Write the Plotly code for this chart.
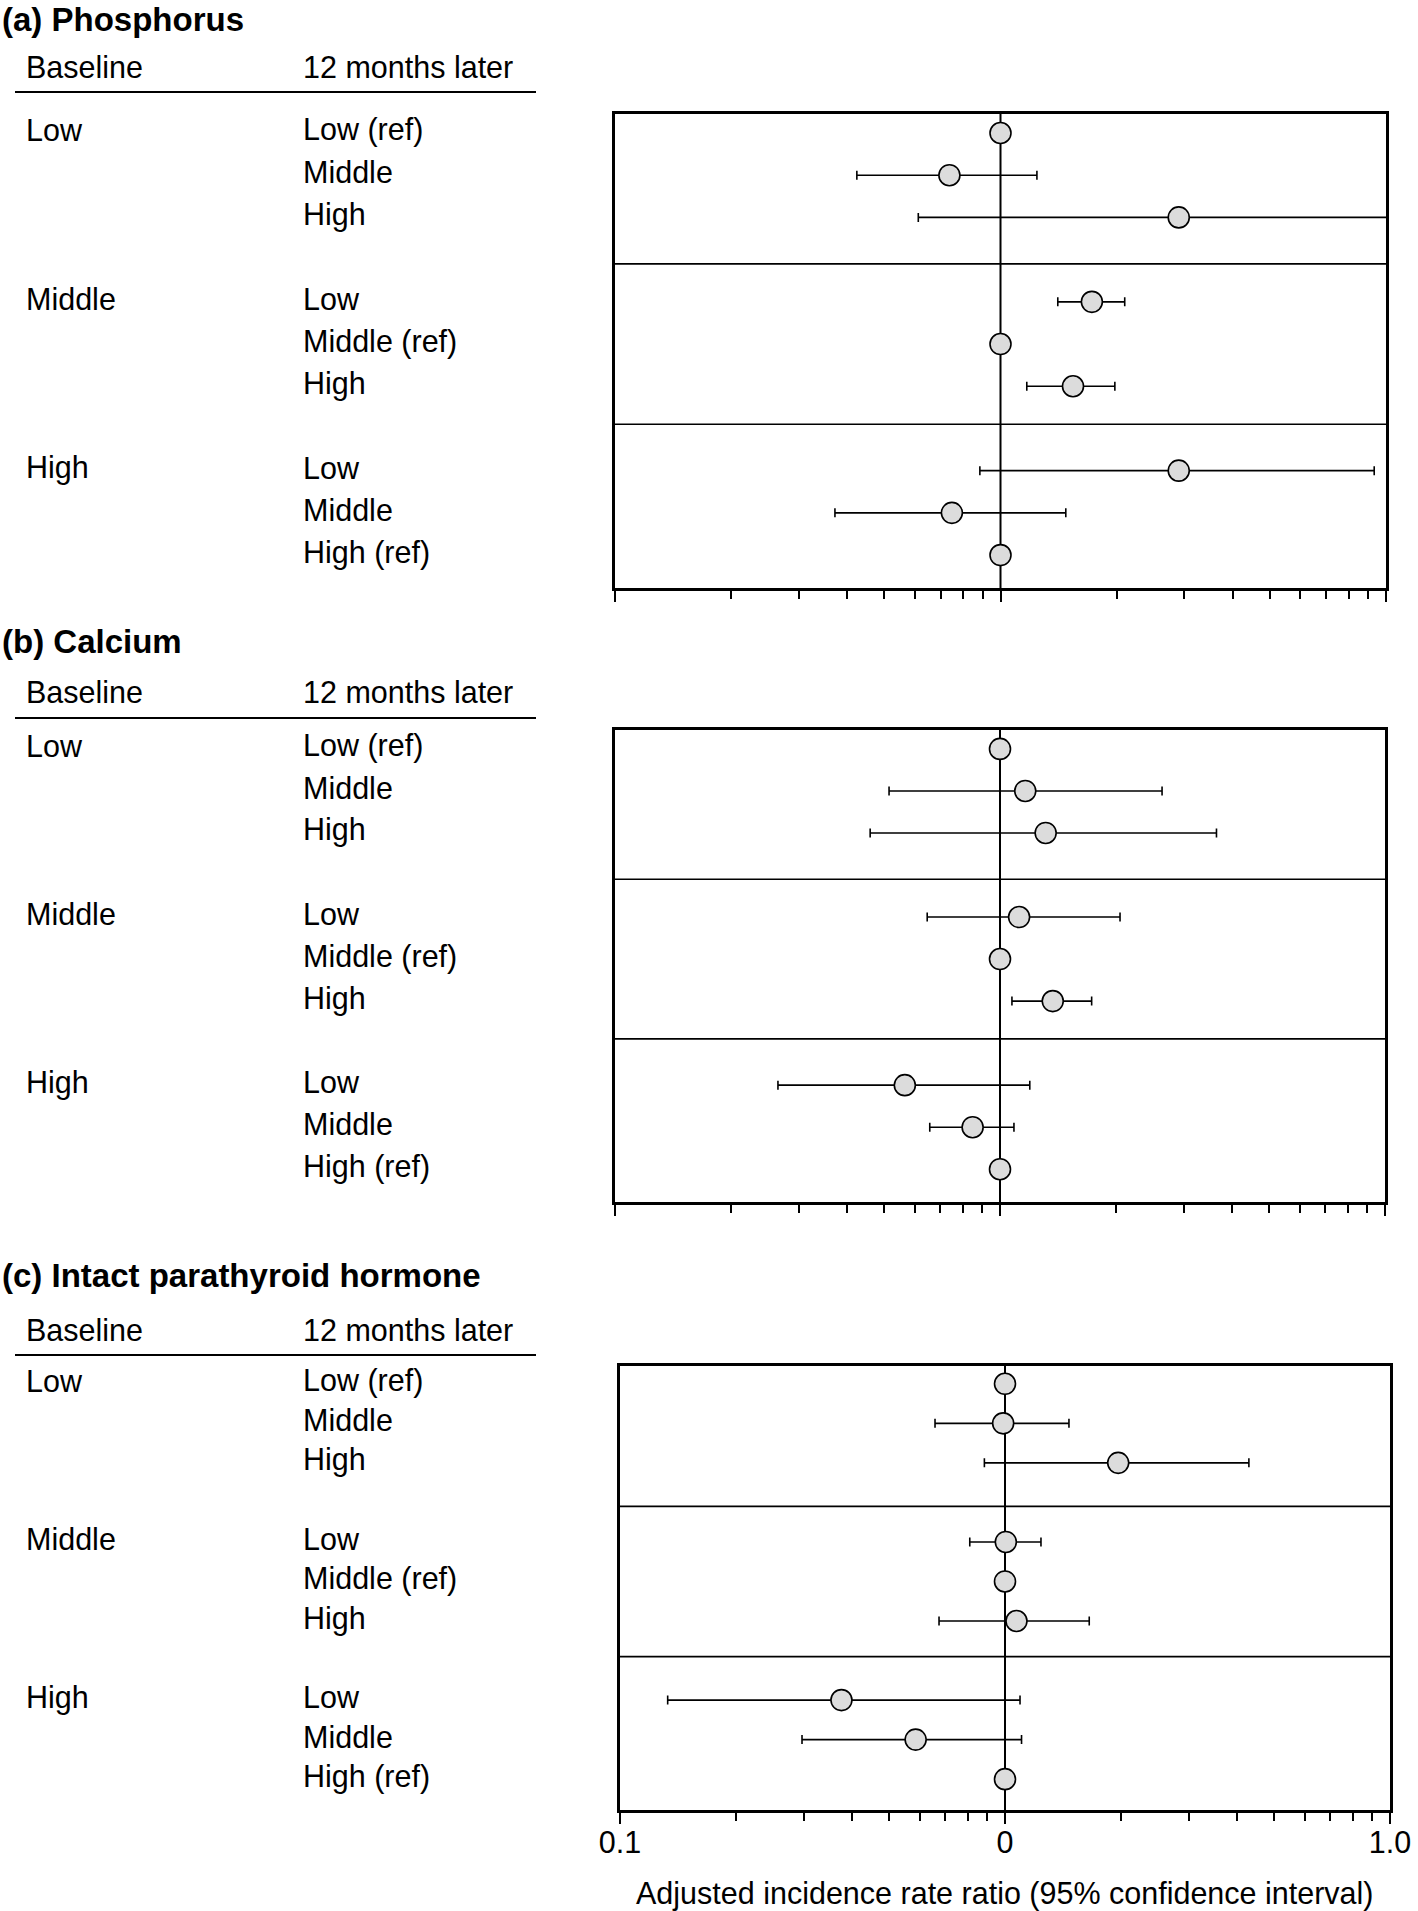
import plotly.graph_objects as go

# ---------------- data ----------------
panel_titles = ["(a) Phosphorus", "(b) Calcium", "(c) Intact parathyroid hormone"]
baseline_labels = ["Low", "Middle", "High"]
later_labels = ["Low (ref)", "Middle", "High",
                "Low", "Middle (ref)", "High",
                "Low", "Middle", "High (ref)"]

phos_est = [1.0, 0.737, 2.90, 1.726, 1.0, 1.542, 2.90, 0.748, 1.0]
phos_lo = [None, 0.424, 0.612, 1.408, None, 1.17, 0.884, 0.372, None]
phos_hi = [None, 1.243, 12.0, 2.10, None, 1.98, 9.32, 1.477, None]

ca_est = [1.0, 1.163, 1.314, 1.121, 1.0, 1.371, 0.566, 0.849, 1.0]
ca_lo = [None, 0.515, 0.460, 0.647, None, 1.074, 0.265, 0.657, None]
ca_hi = [None, 2.636, 3.65, 2.05, None, 1.73, 1.195, 1.087, None]

pth_est = [1.0, 0.989, 1.968, 1.005, 1.0, 1.071, 0.376, 0.586, 1.0]
pth_lo = [None, 0.658, 0.884, 0.81, None, 0.674, 0.133, 0.297, None]
pth_hi = [None, 1.466, 4.30, 1.24, None, 1.655, 1.094, 1.104, None]

tick_vals = [0.1, 1, 10]
tick_text = ["0.1", "0", "1.0"]
minor_vals = [0.2, 0.3, 0.4, 0.5, 0.6, 0.7, 0.8, 0.9, 2, 3, 4, 5, 6, 7, 8, 9]
x_title = "Adjusted incidence rate ratio (95% confidence interval)"

# ---------------- layout constants ----------------
W, H = 1418, 1911
FONT = "Liberation Sans, Arial, sans-serif"
FS = 30.5
GROUP_STEP = 4
YRANGE = [10.78, -0.45]
SEPS = [3.1, 6.9]

# pixel boxes of the three plot areas: (left, right, top, bottom)
boxes = [(615, 1386, 114, 588), (615, 1385, 730, 1202), (620, 1390, 1366, 1810)]
# header pixel rows: (title, column header, underline)
headers = [(20, 67, 92), (641, 692, 718), (1275, 1330, 1355)]

panels = [(phos_est, phos_lo, phos_hi), (ca_est, ca_lo, ca_hi), (pth_est, pth_lo, pth_hi)]

fig = go.Figure()
annotations = []
shapes = []


def px_x(p):
    return p / W


def px_y(p):
    return 1 - p / H


for i, (est, lo, hi) in enumerate(panels):
    n = i + 1
    xa = "x" if n == 1 else f"x{n}"
    ya = "y" if n == 1 else f"y{n}"
    ypos = [g * GROUP_STEP + r for g in range(3) for r in range(3)]
    plus = [(h - e) if h is not None else 0 for e, h in zip(est, hi)]
    minus = [(e - l) if l is not None else 0 for e, l in zip(est, lo)]
    fig.add_trace(go.Scatter(
        x=est, y=ypos, mode="markers", xaxis=xa, yaxis=ya,
        marker=dict(size=21, color="#dcdcdc", line=dict(color="black", width=1.6)),
        error_x=dict(type="data", symmetric=False, array=plus, arrayminus=minus,
                     color="black", thickness=1.6, width=4.5),
        showlegend=False, hoverinfo="skip"))

    left, right, top, bottom = boxes[i]
    xkey = "xaxis" if n == 1 else f"xaxis{n}"
    ykey = "yaxis" if n == 1 else f"yaxis{n}"
    fig.update_layout(**{
        xkey: dict(domain=[px_x(left), px_x(right)], anchor=ya, type="log",
                   range=[-1, 1], showline=True, mirror=True, linecolor="black",
                   linewidth=2.5, ticks="outside", tickvals=tick_vals, ticktext=tick_text,
                   ticklen=11, tickwidth=2, tickcolor="black", automargin=False,
                   ticklabelstandoff=-7,
                   showticklabels=(n == 3), tickfont=dict(size=FS, color="black", family=FONT),
                   minor=dict(tickvals=minor_vals, ticks="outside", ticklen=8,
                              tickwidth=2, tickcolor="black"),
                   showgrid=False, zeroline=False, fixedrange=True),
        ykey: dict(domain=[px_y(bottom), px_y(top)], anchor=xa, range=YRANGE,
                   showline=True, mirror=True, linecolor="black", linewidth=2.5,
                   ticks="", showticklabels=False, showgrid=False, zeroline=False,
                   automargin=False, fixedrange=True),
    })

    # reference line at 1
    shapes.append(dict(type="line", xref=xa, yref=f"{ya} domain", x0=1, x1=1, y0=0, y1=1,
                       line=dict(color="black", width=2), layer="below"))
    for s in SEPS:
        shapes.append(dict(type="line", xref=f"{xa} domain", yref=ya, x0=0, x1=1, y0=s, y1=s,
                           line=dict(color="black", width=1.6), layer="below"))

    # row labels
    for g in range(3):
        annotations.append(dict(text=baseline_labels[g], xref="paper", yref=ya,
                                x=px_x(24), y=g * GROUP_STEP, xanchor="left", yanchor="middle",
                                yshift=3, showarrow=False,
                                font=dict(size=FS, color="black", family=FONT)))
    for k, lab in enumerate(later_labels):
        annotations.append(dict(text=lab, xref="paper", yref=ya,
                                x=px_x(301), y=ypos[k], xanchor="left", yanchor="middle",
                                yshift=3, showarrow=False,
                                font=dict(size=FS, color="black", family=FONT)))

    t_y, h_y, u_y = headers[i]
    annotations.append(dict(text=f"<b>{panel_titles[i]}</b>", xref="paper", yref="paper",
                            x=0, y=px_y(t_y), xanchor="left", yanchor="middle",
                            showarrow=False, font=dict(size=33, color="black", family=FONT)))
    annotations.append(dict(text="Baseline", xref="paper", yref="paper",
                            x=px_x(24), y=px_y(h_y), xanchor="left", yanchor="middle",
                            showarrow=False, font=dict(size=FS, color="black", family=FONT)))
    annotations.append(dict(text="12 months later", xref="paper", yref="paper",
                            x=px_x(301), y=px_y(h_y), xanchor="left", yanchor="middle",
                            showarrow=False, font=dict(size=FS, color="black", family=FONT)))
    shapes.append(dict(type="line", xref="paper", yref="paper", x0=px_x(15), x1=px_x(536),
                       y0=px_y(u_y), y1=px_y(u_y), line=dict(color="black", width=2)))

annotations.append(dict(text=x_title, xref="paper", yref="paper", x=px_x(1005), y=px_y(1893),
                        xanchor="center", yanchor="middle", showarrow=False,
                        font=dict(size=FS, color="black", family=FONT)))

fig.update_layout(width=W, height=H, autosize=False,
                  margin=dict(l=0, r=0, t=0, b=0, pad=0, autoexpand=False),
                  paper_bgcolor="white", plot_bgcolor="white",
                  font=dict(family=FONT, size=FS, color="black"),
                  annotations=annotations, shapes=shapes)

fig.write_html("out.html", config={"responsive": False, "displayModeBar": False},
               post_script="document.body.style.margin='0';document.body.style.padding='0';")
